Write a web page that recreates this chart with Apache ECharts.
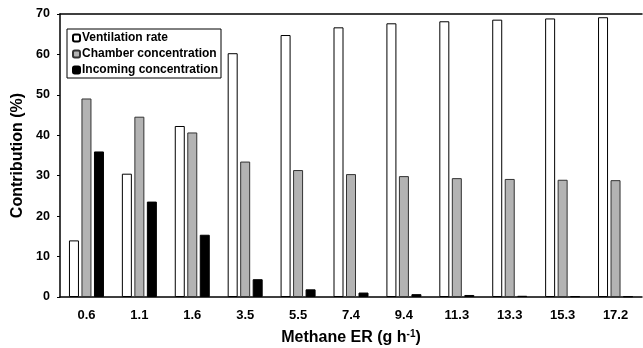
<!DOCTYPE html>
<html>
<head>
<meta charset="utf-8">
<script src="https://cdn.jsdelivr.net/npm/echarts@6/dist/echarts.min.js"></script>
<style>
  html, body { margin: 0; padding: 0; background: #fff; }
  #main { width: 643px; height: 348px; }
</style>
</head>
<body>
<div id="main"></div>
<script>
// methane emission rate categories (g h-1)
const categories = ['0.6', '1.1', '1.6', '3.5', '5.5', '7.4', '9.4', '11.3', '13.3', '15.3', '17.2'];
const ventilationRate = [14.0, 30.5, 42.3, 60.3, 64.8, 66.7, 67.7, 68.2, 68.6, 68.9, 69.2];
const chamberConc = [49.1, 44.6, 40.7, 33.5, 31.4, 30.4, 29.9, 29.4, 29.2, 29.0, 28.9];
const incomingConc = [36.0, 23.6, 15.4, 4.4, 1.9, 1.1, 0.7, 0.5, 0.3, 0.2, 0.15];
const legendNames = ['Ventilation rate', 'Chamber concentration', 'Incoming concentration'];

const font = 'Liberation Sans, Arial, sans-serif';
const chart = echarts.init(document.getElementById('main'));

const barSeries = (name, data, fill, border) => ({
  name: name,
  type: 'bar',
  data: data,
  barWidth: 10,
  barGap: '25%',
  itemStyle: { color: fill, borderColor: border, borderWidth: 1 },
  emphasis: { disabled: true }
});

chart.setOption({
  animation: false,
  grid: { left: 60, right: 1, top: 14, bottom: 51, outerBoundsMode: 'none' },
  legend: {
    data: legendNames,
    orient: 'vertical',
    left: 67,
    top: 29,
    itemWidth: 7,
    itemHeight: 7,
    itemGap: 4,
    padding: [3, 3, 2, 5],
    borderColor: '#000',
    borderWidth: 1,
    backgroundColor: '#fff',
    textStyle: { fontFamily: font, fontWeight: 'bold', fontSize: 12, color: '#000', padding: [0, 0, 0, -3] }
  },
  xAxis: [
    {
      type: 'category',
      data: categories,
      axisLine: { lineStyle: { color: '#000', width: 1.5 } },
      axisTick: { show: false },
      axisLabel: { fontFamily: font, fontWeight: 'bold', fontSize: 13, color: '#000', margin: 12 },
      name: 'Methane ER (g h{sup|-1})',
      nameLocation: 'middle',
      nameGap: 32,
      nameTextStyle: {
        fontFamily: font, fontWeight: 'bold', fontSize: 16, color: '#000',
        rich: { sup: { fontFamily: font, fontWeight: 'bold', fontSize: 10, color: '#000', verticalAlign: 'top', padding: [0, 0, 8, 0] } }
      }
    },
    {
      type: 'category',
      data: categories,
      position: 'top',
      axisLine: { lineStyle: { color: '#000', width: 1.5 } },
      axisTick: { show: false },
      axisLabel: { show: false }
    }
  ],
  yAxis: {
    type: 'value',
    min: 0,
    max: 70,
    interval: 10,
    axisLine: { show: true, lineStyle: { color: '#000', width: 1.5 } },
    axisTick: { show: true, length: 3, lineStyle: { color: '#000' } },
    splitLine: { show: false },
    axisLabel: { fontFamily: font, fontWeight: 'bold', fontSize: 12.5, color: '#000', margin: 10 },
    name: 'Contribution (%)',
    nameLocation: 'middle',
    nameGap: 28,
    nameTextStyle: { fontFamily: font, fontWeight: 'bold', fontSize: 16, color: '#000' }
  },
  series: [
    barSeries(legendNames[0], ventilationRate, '#fff', '#000'),
    barSeries(legendNames[1], chamberConc, '#b3b3b3', '#333'),
    barSeries(legendNames[2], incomingConc, '#000', '#000')
  ]
});
</script>
</body>
</html>
